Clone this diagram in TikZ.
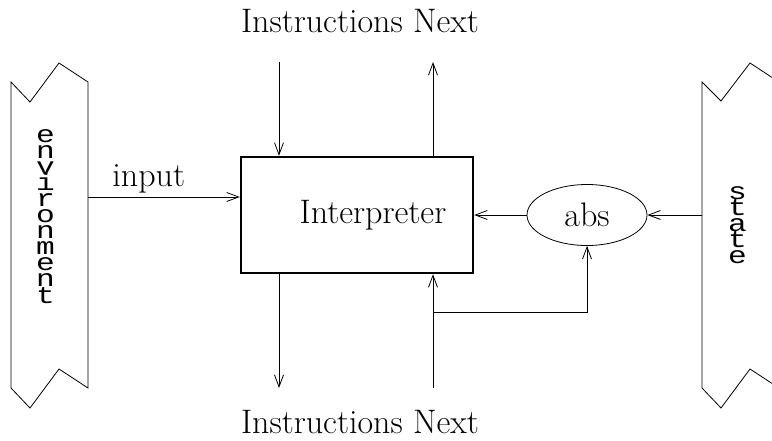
\documentclass[tikz,border=0pt]{standalone}
\usepackage{fontspec}
\newfontfamily\banfont[FakeStretch=1.3]{Liberation Mono}
\usetikzlibrary{positioning, arrows.meta, shapes.geometric}
\setlength{\lineskiplimit}{-100pt}

\begin{document}
\begin{tikzpicture}[
        x = 1pt, y = -1pt,
        line width = 0.8pt,
        > = {Straight Barb[length=12pt, width=9pt]},
every node/.style = {font=\fontsize{34}{40}\selectfont},
       ibox/.style = {rectangle, draw, line width=2.4pt,
                     minimum width=232pt, minimum height=116pt},
      absel/.style = {ellipse, draw, inner sep=0pt,
                     minimum width=120pt, minimum height=61pt},
    stacked/.style = {anchor=base, inner sep=0pt, align=center,
                     font=\banfont\fontsize{24}{16.1}\selectfont},
      title/.style = {anchor=base, inner sep=0pt}
                        ]
\useasboundingbox (0,0) rectangle (772,440);
\clip (0,0) rectangle (772,440);
% banners
\draw (11,82) -- (30,102) -- (59,63) -- (88,82) -- (88,388)
      -- (59,369) -- (30,408) -- (11,388) -- cycle;
\draw (702,82) -- (721,101) -- (750,63) -- (779,82) -- (779,388)
      -- (750,369) -- (721,408) -- (702,388) -- cycle;
% base = baseline of the last letter
\node (envtext) [stacked] at (45.5,303) {e\\n\\v\\i\\r\\o\\n\\m\\e\\n\\t};
\node (statetext) [stacked] at (737.5,263.4) {s\\t\\a\\t\\e};
% nodes
\node (interp) [ibox] at (357,215) {\hspace*{32pt}Interpreter};
\node (abs) [absel] at (587,215) {abs};
\node (nexttop) [title] at (360,32) {Instructions Next};
\node (nextbot) [title] at (360,433) {Instructions Next};
\coordinate (envout) at (88,197);
\coordinate (statein) at (702,215);
\coordinate (tl) at (279,62);
\coordinate (tr) at (433,62);
\coordinate (bl) at (279,388);
\coordinate (br) at (433,388);
\coordinate (split) at (433,312);
% connectors
\draw[->] (envout) -- node (inlabel) [pos=0.4, above] {input} (envout -| interp.west);
\draw[->] (tl) -- (tl |- interp.north);
\draw[->] (interp.north -| tr) -- (tr);
\draw[->] (interp.south -| bl) -- (bl);
\draw[->] (br) -- (br |- interp.south);
\draw[->] (split) -| (abs.south);
\draw[->] (statein) -- (abs.east);
\draw[->] (abs.west) -- (interp.east);
\end{tikzpicture}
\end{document}
